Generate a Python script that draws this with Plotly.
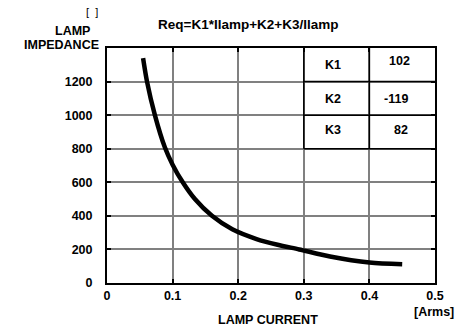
import plotly.graph_objects as go

# Curve data
lamp_current = [0.055, 0.061, 0.073, 0.088, 0.100, 0.1155, 0.134, 0.160, 0.191, 0.228, 0.260, 0.293, 0.340, 0.400, 0.450]
lamp_impedance = [1340, 1200, 1000, 810, 705, 600, 500, 400, 320, 262, 228, 200, 158, 122, 112]

# Coefficient table
coef_names = ["K1", "K2", "K3"]
coef_values = ["102", "-119", "82"]

x_ticks = [0, 0.1, 0.2, 0.3, 0.4, 0.5]
x_tick_text = ["0", "0.1", "0.2", "0.3", "0.4", "0.5"]
y_ticks = [0, 200, 400, 600, 800, 1000, 1200]

FONT = "Liberation Sans"
FS = 12.5

W, H = 461, 332
L, R, T, B = 107, 26, 48, 49
pw, ph = W - L - R, H - T - B


def px(x):
    return (x - L) / pw


def py(y):
    return (H - B - y) / ph


fig = go.Figure()
fig.add_trace(go.Scatter(x=lamp_current, y=lamp_impedance, mode="lines",
                         line=dict(color="black", width=4.5, shape="spline", smoothing=0.8),
                         hoverinfo="skip", showlegend=False))

shapes = []
for xv in [0.3, 0.4]:
    shapes.append(dict(type="line", xref="x", yref="y", x0=xv, x1=xv, y0=800, y1=1400,
                       line=dict(color="black", width=1.5)))
for yv in [1200, 1000, 800]:
    shapes.append(dict(type="line", xref="x", yref="y", x0=0.3, x1=0.5, y0=yv, y1=yv,
                       line=dict(color="black", width=1.5)))


def lab(x, y, text, size=FS, xanchor="center", bold=True):
    return dict(x=px(x), y=py(y), xref="paper", yref="paper",
                text=("<b>%s</b>" % text) if bold else text, showarrow=False,
                font=dict(family=FONT, size=size, color="black"),
                xanchor=xanchor, yanchor="middle")


annotations = []
name_pos = [(333, 65), (333, 99), (333, 130)]
val_pos = [(399, 61), (396, 99), (401, 130)]
for name, val, npos, vpos in zip(coef_names, coef_values, name_pos, val_pos):
    annotations.append(lab(npos[0], npos[1], name))
    annotations.append(lab(vpos[0], vpos[1], val))

annotations += [
    lab(248, 24, "Req=K1*Ilamp+K2+K3/Ilamp", size=13.5),
    lab(72, 31, "LAMP"),
    lab(101, 45, "IMPEDANCE", xanchor="right"),
    lab(92, 12, "[&nbsp;&nbsp;]", size=11, bold=False),
    lab(268, 320, "LAMP CURRENT"),
    lab(434, 312, "[Arms]"),
]

fig.update_layout(
    width=W, height=H,
    margin=dict(l=L, r=R, t=T, b=B),
    paper_bgcolor="white", plot_bgcolor="white",
    font=dict(family=FONT, size=FS, color="black"),
    shapes=shapes,
    annotations=annotations,
    showlegend=False,
)

fig.update_xaxes(range=[0, 0.5], tickvals=x_ticks, ticktext=["<b>%s</b>" % t for t in x_tick_text],
                 showgrid=True, gridcolor="#808080", gridwidth=2,
                 showline=True, linecolor="black", linewidth=2, mirror="ticks",
                 ticks="inside", ticklen=4, tickwidth=2, tickcolor="black",
                 zeroline=False, fixedrange=True, tickfont=dict(family=FONT, size=FS, color="black"))
fig.update_yaxes(range=[0, 1400], tickvals=y_ticks, ticktext=["<b>%d</b>" % v for v in y_ticks],
                 showgrid=True, gridcolor="#808080", gridwidth=2,
                 showline=True, linecolor="black", linewidth=2, mirror="ticks",
                 ticks="inside", ticklen=4, tickwidth=2, tickcolor="black",
                 zeroline=False, fixedrange=True, ticklabelstandoff=10,
                 tickfont=dict(family=FONT, size=FS, color="black"))

fig.write_html("out.html", config={"displayModeBar": False})
